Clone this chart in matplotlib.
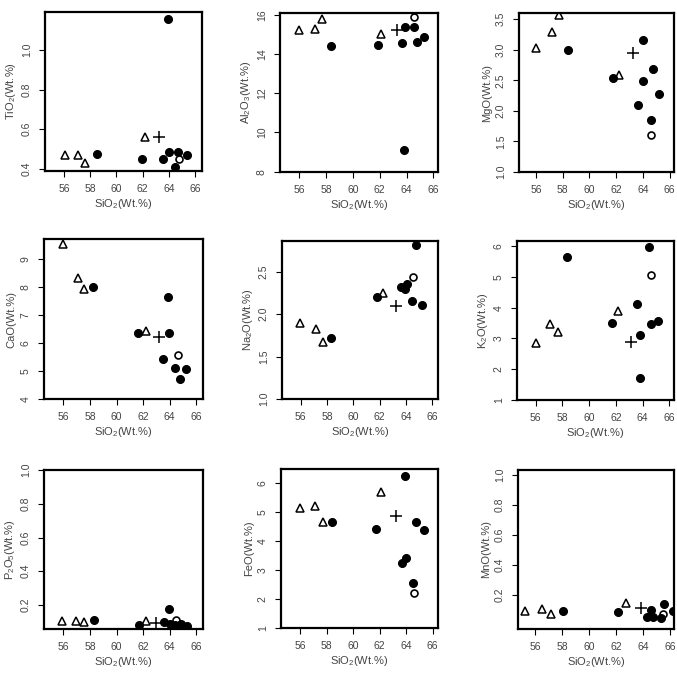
import numpy as np
import matplotlib
matplotlib.use("Agg")
import matplotlib.pyplot as plt

plt.rcParams['font.family'] = ['Liberation Sans', 'DejaVu Sans']
plt.rcParams['mathtext.fontset'] = 'custom'
plt.rcParams['mathtext.rm'] = 'Liberation Sans'
plt.rcParams['mathtext.it'] = 'Liberation Sans:italic'

# point order in every panel: 4 triangles, 1 cross, 1 open circle, 8 filled circles
kinds = ['tri'] * 4 + ['plus'] + ['open'] + ['dot'] * 8

tio2_x = [56.08, 57.04, 57.6, 62.2, 63.28, 64.78, 63.96, 58.5, 61.93, 63.53, 64.04, 64.67, 64.47, 65.41]
tio2_y = [0.47, 0.47, 0.43, 0.56, 0.56, 0.45, 1.155, 0.478, 0.452, 0.452, 0.488, 0.488, 0.41, 0.47]

al2o3_x = [56.0, 57.19, 57.7, 62.1, 63.26, 64.56, 58.36, 61.85, 63.69, 63.91, 64.53, 64.76, 65.3, 63.81]
al2o3_y = [15.23, 15.29, 15.78, 15.01, 15.23, 15.91, 14.42, 14.45, 14.55, 15.4, 15.4, 14.62, 14.89, 9.11]

mgo_x = [56.0, 57.18, 57.69, 62.22, 63.25, 64.64, 58.37, 61.79, 63.66, 64.01, 64.01, 64.61, 64.74, 65.24]
mgo_y = [3.03, 3.29, 3.56, 2.58, 2.94, 1.61, 3.0, 2.54, 2.1, 3.16, 2.48, 1.85, 2.69, 2.27]

cao_x = [56.0, 57.11, 57.56, 62.22, 63.18, 64.64, 58.22, 61.59, 63.88, 63.93, 63.5, 64.36, 65.19, 64.77]
cao_y = [9.55, 8.33, 7.92, 6.42, 6.2, 5.58, 8.02, 6.37, 7.64, 6.37, 5.42, 5.12, 5.07, 4.72]

na2o_x = [55.97, 57.13, 57.69, 62.25, 63.23, 64.56, 58.34, 61.79, 63.63, 63.96, 64.06, 64.49, 64.74, 65.27]
na2o_y = [1.9, 1.82, 1.67, 2.25, 2.09, 2.44, 1.72, 2.2, 2.32, 2.29, 2.35, 2.15, 2.81, 2.11]

k2o_x = [56.0, 57.09, 57.69, 62.17, 63.11, 64.63, 58.34, 61.72, 63.59, 63.81, 63.81, 64.51, 64.63, 65.18]
k2o_y = [2.85, 3.47, 3.2, 3.9, 2.9, 5.08, 5.65, 3.5, 4.13, 3.1, 1.71, 5.97, 3.48, 3.57]

p2o5_x = [55.92, 56.98, 57.56, 62.22, 63.0, 64.49, 58.29, 61.72, 63.56, 63.93, 64.04, 64.41, 64.87, 65.32]
p2o5_y = [0.105, 0.105, 0.1, 0.105, 0.095, 0.11, 0.111, 0.081, 0.1, 0.176, 0.087, 0.081, 0.087, 0.078]

feo_x = [56.03, 57.16, 57.69, 62.12, 63.23, 64.59, 58.39, 61.72, 63.88, 63.68, 63.96, 64.51, 64.77, 65.35]
feo_y = [5.12, 5.2, 4.66, 5.7, 4.85, 2.19, 4.65, 4.41, 6.25, 3.23, 3.4, 2.56, 4.65, 4.38]

mno_x = [55.22, 56.48, 57.13, 62.73, 63.81, 65.5, 58.02, 62.17, 64.29, 64.61, 64.74, 65.32, 65.55, 66.2]
mno_y = [0.09, 0.105, 0.072, 0.145, 0.107, 0.07, 0.089, 0.082, 0.05, 0.1, 0.05, 0.043, 0.136, 0.089]

sio2_ticks = [56, 58, 60, 62, 64, 66]

panels = [
    ('TiO$_2$(Wt.%)', tio2_x, tio2_y, (54.55, 66.53), (0.39, 1.19), [0.4, 0.6, 0.8, 1.0], (45, 202, 12, 171)),
    ('Al$_2$O$_3$(Wt.%)', al2o3_x, al2o3_y, (54.56, 66.35), (7.98, 16.1), [8, 10, 12, 14, 16], (280, 438, 13, 172)),
    ('MgO(Wt.%)', mgo_x, mgo_y, (54.72, 66.33), (1.0, 3.6), [1.0, 1.5, 2.0, 2.5, 3.0, 3.5], (519, 674, 13, 172)),
    ('CaO(Wt.%)', cao_x, cao_y, (54.55, 66.5), (4.0, 9.72), [4, 5, 6, 7, 8, 9], (44, 203, 239, 399)),
    ('Na$_2$O(Wt.%)', na2o_x, na2o_y, (54.58, 66.45), (1.0, 2.86), [1.0, 1.5, 2.0, 2.5], (282, 438, 241, 399)),
    ('K$_2$O(Wt.%)', k2o_x, k2o_y, (54.6, 66.35), (1.0, 6.17), [1, 2, 3, 4, 5, 6], (517, 674, 241, 400)),
    ('P$_2$O$_5$(Wt.%)', p2o5_x, p2o5_y, (54.55, 66.5), (0.058, 1.0), [0.2, 0.4, 0.6, 0.8, 1.0], (44, 203, 470, 629)),
    ('FeO(Wt.%)', feo_x, feo_y, (54.56, 66.4), (1.0, 6.48), [1, 2, 3, 4, 5, 6], (281, 438, 469, 628)),
    ('MnO(Wt.%)', mno_x, mno_y, (54.7, 66.3), (-0.03, 1.03), [0.2, 0.4, 0.6, 0.8, 1.0], (518, 674, 470, 629)),
]

W, H = 677, 676
fig = plt.figure(figsize=(W / 100, H / 100), dpi=100)
grey = '#444444'

for ylabel, xs, ys, xlim, ylim, yticks, (l, r, t, b) in panels:
    ax = fig.add_axes([l / W, 1 - b / H, (r - l) / W, (b - t) / H])
    xs = np.array(xs)
    ys = np.array(ys)
    k = np.array(kinds)
    m = k == 'tri'
    ax.plot(xs[m], ys[m], ls='none', marker='^', ms=5.5, mfc='white', mec='black', mew=1.1)
    m = k == 'plus'
    ax.plot(xs[m], ys[m], ls='none', marker='+', ms=9, mec='black', mew=1.1)
    m = k == 'open'
    ax.plot(xs[m], ys[m], ls='none', marker='o', ms=5, mfc='white', mec='black', mew=1.2)
    m = k == 'dot'
    ax.plot(xs[m], ys[m], ls='none', marker='o', ms=5.5, mfc='black', mec='black')
    ax.set_xlim(xlim)
    ax.set_ylim(ylim)
    ax.set_xticks(sio2_ticks)
    ax.set_yticks(yticks)
    ax.set_yticklabels([str(v) for v in yticks], rotation=90, va='center')
    for s in ax.spines.values():
        s.set_linewidth(1.6)
    ax.tick_params(direction='out', length=4.5, width=0.8, labelsize=7.5,
                   labelcolor=grey, pad=5)
    ax.set_xlabel('SiO$_2$(Wt.%)', fontsize=8, color=grey, labelpad=2)
    ax.set_ylabel(ylabel, fontsize=8, color=grey, labelpad=3)

fig.savefig('out.png', dpi=100)
